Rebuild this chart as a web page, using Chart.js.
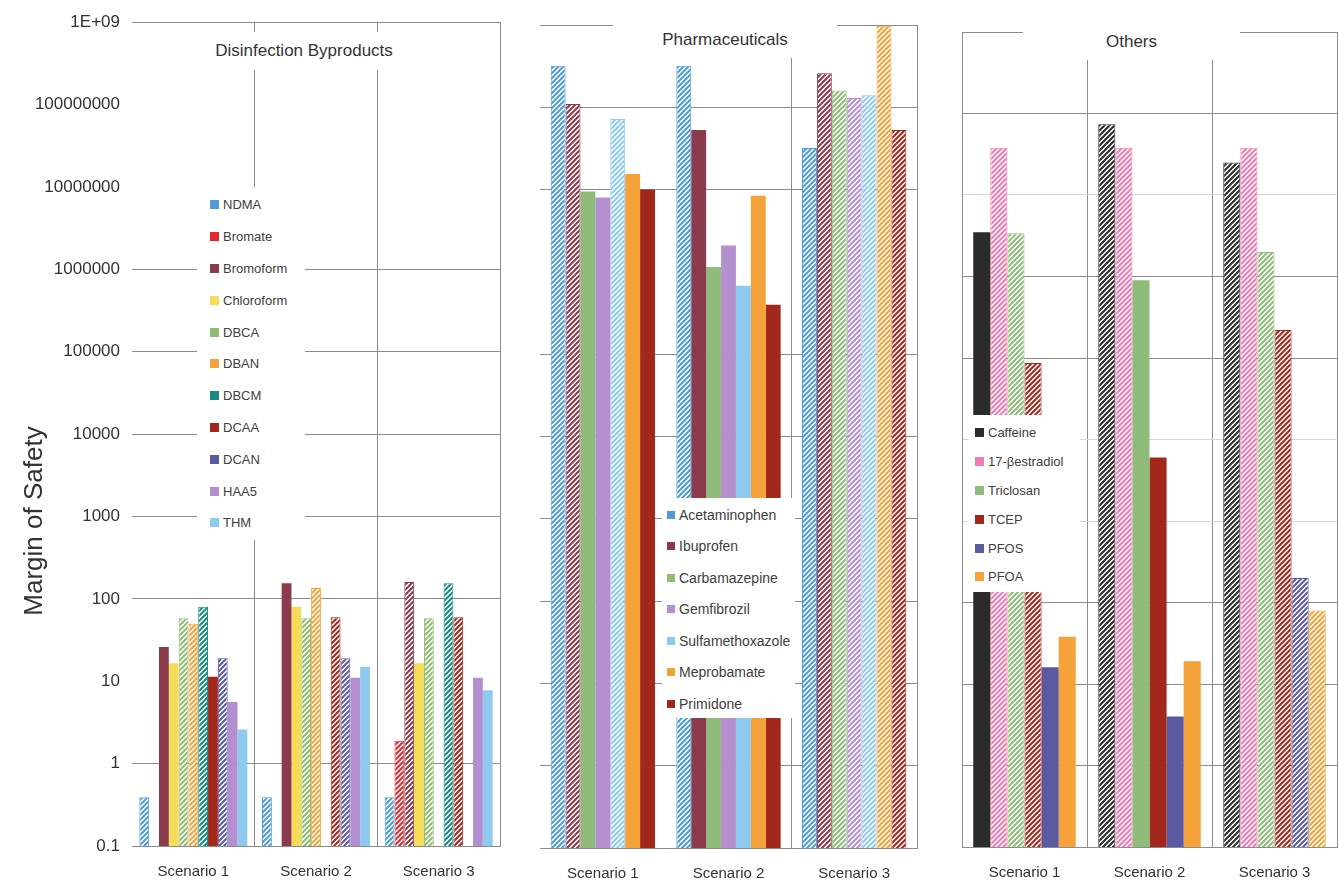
<!DOCTYPE html>
<html>
<head>
<meta charset="utf-8">
<script src="https://cdn.jsdelivr.net/npm/chart.js@4.4.1/dist/chart.umd.min.js"></script>
<style>
  body { margin: 0; background: #fff; font-family: "Liberation Sans", Arial, sans-serif; color: #404040; }
  #wrap { position: relative; width: 1338px; height: 884px; overflow: hidden; }
  canvas { position: absolute; top: 0; }
  .box { position: absolute; background: #fff; }
  .title { display: flex; align-items: center; justify-content: center; font-size: 17px; color: #333; }
  .item { display: flex; align-items: center; white-space: nowrap; }
  .sw { flex: none; }
  #ytitle { position: absolute; width: 300px; height: 32px; line-height: 32px; left: -117px; top: 505px;
            transform: rotate(-90deg); text-align: center; font-size: 26px; color: #333; }
</style>
</head>
<body>
<div id="wrap">
  <canvas id="dbpChart" width="520" height="884" style="left:0"></canvas>
  <canvas id="pharmaChart" width="410" height="884" style="left:520px"></canvas>
  <canvas id="otherChart" width="408" height="884" style="left:930px"></canvas>
  <div id="ytitle">Margin of Safety</div>
</div>
<script>
// ---- data ----
const scenarios = ['Scenario 1', 'Scenario 2', 'Scenario 3'];
const yTickValues = [0.1, 1, 10, 100, 1000, 1e4, 1e5, 1e6, 1e7, 1e8, 1e9];
const yTickLabels = ['0.1', '1', '10', '100', '1000', '10000', '100000', '1000000', '10000000', '100000000', '1E+09'];
const panelTitles = ['Disinfection Byproducts', 'Pharmaceuticals', 'Others'];

const dbpNames = ['NDMA', 'Bromate', 'Bromoform', 'Chloroform', 'DBCA', 'DBAN', 'DBCM', 'DCAA', 'DCAN', 'HAA5', 'THM'];
const dbpValues = [
  [0.39, 0.39, 0.39],
  [null, null, 1.9],
  [26, 155, 160],
  [16.5, 80, 16.5],
  [58, 58, 58],
  [50, 135, null],
  [80, null, 155],
  [11.3, 60, 60],
  [19, 19, null],
  [5.6, 11, 11],
  [2.6, 15, 7.8],
];

const pharmaNames = ['Acetaminophen', 'Ibuprofen', 'Carbamazepine', 'Gemfibrozil', 'Sulfamethoxazole', 'Meprobamate', 'Primidone'];
const pharmaValues = [
  [3.2e8, 3.2e8, 3.2e7],
  [1.1e8, 5.3e7, 2.6e8],
  [9.5e6, 1.15e6, 1.6e8],
  [8e6, 2.1e6, 1.3e8],
  [7.2e7, 6.8e5, 1.4e8],
  [1.55e7, 8.4e6, 9.8e8],
  [1e7, 4e5, 5.3e7],
];

const otherNames = ['Caffeine', '17-βestradiol', 'Triclosan', 'TCEP', 'PFOS', 'PFOA'];
const otherValues = [
  [3.5e6, 7.4e7, 2.5e7],
  [3.8e7, 3.8e7, 3.8e7],
  [3.4e6, 9e5, 2e6],
  [8.7e4, 6e3, 2.2e5],
  [16, 4, 200],
  [38, 19, 80],
];

// ---- styles ----
const dbpColors = ['#4f9ad8', '#e0282e', '#8b3b4b', '#f5dc5a', '#8fbc72', '#f5a23a', '#168a7e', '#a3281c', '#5a5aa0', '#b48fd0', '#8ec9f0'];
// 1 = hatched bar, 0 = solid bar (per scenario)
const dbpHatched = [[1,1,1],[0,0,1],[0,0,1],[0,0,0],[1,1,1],[1,1,0],[1,0,1],[0,1,1],[1,1,0],[0,0,0],[0,0,0]];
const pharmaColors = ['#4f9ad8', '#8b3b4b', '#8fbc7a', '#b490cf', '#8ec9f0', '#f5a23a', '#a3281c'];
const pharmaHatched = [[1,1,1],[1,0,1],[0,0,1],[0,0,1],[1,0,1],[0,0,1],[0,0,1]];
const otherColors = ['#2b2b2b', '#f27ab0', '#8fbc7a', '#a3281c', '#5a5aa0', '#f5a23a'];
const otherHatched = [[0,1,1],[1,1,1],[1,0,1],[1,0,1],[0,0,1],[0,0,1]];

const G = '#8c8c8c', N = 'rgba(0,0,0,0)', F = '#d6d6d6';

Chart.defaults.font.family = '"Liberation Sans", Arial, sans-serif';
Chart.defaults.color = '#333';

// diagonal stripe fill for the hatched bars
function hatch(color) {
  const c = document.createElement('canvas');
  c.width = c.height = 5;
  const x = c.getContext('2d');
  x.fillStyle = '#fff';
  x.fillRect(0, 0, 5, 5);
  x.strokeStyle = color;
  x.lineWidth = 2;
  x.beginPath();
  x.moveTo(-1, 6); x.lineTo(6, -1);
  x.moveTo(-4, 4); x.lineTo(4, -4);
  x.moveTo(1, 9); x.lineTo(9, 1);
  x.stroke();
  return x.createPattern(c, 'repeat');
}

function buildDatasets(names, values, colors, hatched) {
  return names.map((name, i) => ({
    label: name,
    data: values[i],
    backgroundColor: hatched[i].map(h => h ? hatch(colors[i]) : colors[i]),
    borderColor: colors[i],
    borderWidth: hatched[i].map(h => h ? 1 : 0),
  }));
}

function makeChart(id, datasets, cfg) {
  return new Chart(document.getElementById(id), {
    type: 'bar',
    data: { labels: scenarios, datasets: datasets },
    options: {
      responsive: false,
      animation: false,
      layout: { padding: cfg.padding },
      datasets: { bar: { categoryPercentage: cfg.catPct, barPercentage: 1 } },
      scales: {
        x: {
          grid: {
            drawTicks: false,
            color: ctx => cfg.xGrid[ctx.index === undefined ? 3 : ctx.index],
          },
          border: { display: true, color: G },
          ticks: { padding: 17, font: { size: 15 }, color: '#333' },
          afterFit: s => { s.height = cfg.xHeight; },
        },
        y: {
          type: 'logarithmic',
          min: 0.1,
          max: 1e9,
          grid: {
            drawTicks: false,
            color: ctx => cfg.yGrid[ctx.index] || N,
          },
          border: { display: cfg.yBorder, color: G },
          afterBuildTicks: s => { s.ticks = yTickValues.map(v => ({ value: v })); },
          ticks: {
            display: cfg.yLabels,
            autoSkip: false,
            padding: 12,
            font: { size: 17 },
            color: '#333',
            callback: (v, i) => yTickLabels[i],
          },
          afterFit: s => { s.width = cfg.yWidth; },
        },
      },
      plugins: { legend: { display: false }, tooltip: { enabled: true } },
    },
  });
}

makeChart('dbpChart', buildDatasets(dbpNames, dbpValues, dbpColors, dbpHatched), {
  padding: { top: 22, right: 20, left: 0, bottom: 0 },
  xHeight: 38, yWidth: 132, yLabels: true, yBorder: false, catPct: 0.88,
  yGrid: [G, G, N, G, G, G, G, G, N, N, G],
  xGrid: [N, G, G, G],
});

makeChart('pharmaChart', buildDatasets(pharmaNames, pharmaValues, pharmaColors, pharmaHatched), {
  padding: { top: 25, right: 13, left: 20, bottom: 0 },
  xHeight: 36, yWidth: 0, yLabels: false, yBorder: false, catPct: 0.83,
  yGrid: [G, G, G, G, G, G, G, N, G, G, G],
  xGrid: [N, N, G, G],
});

makeChart('otherChart', buildDatasets(otherNames, otherValues, otherColors, otherHatched), {
  padding: { top: 32, right: 1, left: 32, bottom: 0 },
  xHeight: 37, yWidth: 0, yLabels: false, yBorder: true, catPct: 0.82,
  yGrid: [G, G, G, G, F, F, G, G, F, G, G],
  xGrid: [G, G, G, G],
});

// ---- titles and legends drawn as white boxes over the plots ----
const wrap = document.getElementById('wrap');

function addBox(cls, style) {
  const d = document.createElement('div');
  d.className = 'box ' + cls;
  Object.assign(d.style, style);
  wrap.appendChild(d);
  return d;
}

const titleBoxes = [
  { left: '200px', top: '32px', width: '208px', height: '38px' },
  { left: '613px', top: '22px', width: '224px', height: '36px' },
  { left: '1023px', top: '24px', width: '217px', height: '36px' },
];
panelTitles.forEach((t, i) => { addBox('title', titleBoxes[i]).textContent = t; });

function addLegend(names, colors, box, rowH, padTop, swLeft, sw, fontSize) {
  const d = addBox('legend', box);
  d.style.paddingTop = padTop + 'px';
  d.style.boxSizing = 'border-box';
  names.forEach((name, i) => {
    const row = document.createElement('div');
    row.className = 'item';
    row.style.height = rowH + 'px';
    row.style.paddingLeft = swLeft + 'px';
    row.style.fontSize = fontSize + 'px';
    const s = document.createElement('span');
    s.className = 'sw';
    s.style.width = sw + 'px';
    s.style.height = sw + 'px';
    s.style.background = colors[i];
    s.style.marginRight = '4px';
    const t = document.createElement('span');
    t.textContent = name;
    row.appendChild(s);
    row.appendChild(t);
    d.appendChild(row);
  });
}

addLegend(dbpNames, dbpColors, { left: '197px', top: '187px', width: '108px', height: '353px' }, 31.8, 2, 13, 9, 13);
addLegend(pharmaNames, pharmaColors, { left: '662px', top: '498px', width: '133px', height: '220px' }, 31.5, 1, 5, 8, 14);
addLegend(otherNames, otherColors, { left: '968px', top: '415px', width: '112px', height: '177px' }, 28.8, 3.6, 7, 9, 13);
</script>
</body>
</html>
